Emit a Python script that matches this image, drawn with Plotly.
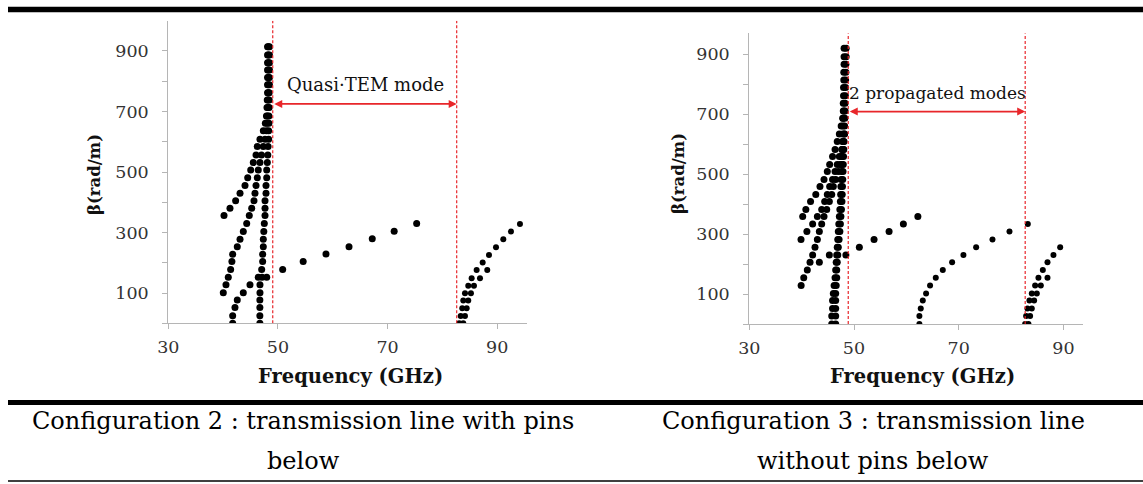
import plotly.graph_objects as go

# ---------------- Configuration 2 (left panel) ----------------
L_col_beta = [0, 25, 52, 77, 101, 127, 152, 178, 204, 228, 253, 278, 303, 330, 356, 380, 405, 430, 455,
              481, 507, 531, 556, 584, 608, 636, 661, 685, 713, 738, 762, 788, 812, 837, 861, 887, 914]
L_col_freq = [46.7, 46.7, 46.7, 46.7, 46.72, 46.72, 47.1, 47.03, 47.21, 47.21, 47.33, 47.33, 47.42, 47.51, 47.64,
              47.64, 47.64, 47.82, 47.82, 47.95, 47.95, 48.06, 48.15, 48.2, 48.3, 48.3, 48.35, 48.35, 48.4, 48.4,
              48.4, 48.45, 48.45, 48.45, 48.45, 48.45, 48.45]

L_d1_beta = [356, 380, 405, 430, 455, 481, 507, 531, 556, 584, 608, 636, 661, 685, 713, 738, 762, 788, 812,
             837, 861, 887, 914]
L_d1_freq = [40.16, 41.25, 42.28, 43.08, 43.99, 44.48, 45.03, 45.5, 46.0, 46.23, 46.72, 47.33, 47.7, 47.9,
             48.0, 48.05, 48.1, 48.1, 48.1, 48.1, 48.1, 48.1, 48.1]

L_d2_beta = [101, 127, 152, 178, 204, 228, 253, 278, 303, 330, 356, 380, 405, 430, 455, 481, 507, 531, 556,
             584, 608, 636, 661, 685, 713, 738, 762, 788, 812, 837, 861, 887, 914]
L_d2_freq = [40.03, 40.52, 40.94, 41.37, 41.6, 41.74, 42.58, 43.08, 43.68, 44.3, 44.77, 45.21, 45.63, 45.81,
             46.0, 46.23, 46.41, 46.72, 47.0, 47.33, 47.64, 47.9, 48.0, 48.1, 48.2, 48.2, 48.25, 48.25, 48.25,
             48.25, 48.25, 48.25, 48.25]

L_d3_beta = [0, 25, 52, 77, 101, 127, 152]
L_d3_freq = [41.74, 41.74, 42.16, 42.58, 43.68, 44.9, 46.41]

L_tem_beta = [152, 178, 204, 229, 253, 279, 304, 330]
L_tem_freq = [47.95, 50.86, 54.6, 58.76, 62.96, 67.2, 71.2, 75.3]

L_hi1_beta = [0, 24, 50, 75, 99, 124, 149, 176, 201, 226, 251, 278, 303, 328]
L_hi1_freq = [83.07, 83.33, 83.62, 83.8, 84.11, 84.71, 85.33, 86.24, 87.34, 88.49, 89.77, 91.1, 92.5, 94.14]

L_hi2_beta = [0, 24, 50, 75, 99, 124, 149, 176]
L_hi2_freq = [83.8, 84.11, 84.42, 84.71, 85.2, 85.75, 86.85, 88.18]

L_cut = [49.05, 82.6]
L_label = "Quasi·TEM mode"

# ---------------- Configuration 3 (right panel) ----------------
R_c1_beta = [0, 27, 52, 78, 102, 128, 154, 180, 206, 230, 256, 282, 308, 333, 358, 382, 408, 432, 458, 482,
             508, 532, 558, 582, 608, 633, 660, 686, 710, 736, 761, 788, 813, 839, 866, 891, 919]
R_c1_freq = [45.75, 45.75, 45.9, 45.9, 46.05, 46.2, 46.38, 46.5, 46.6, 46.7, 46.8, 46.9, 47.0, 47.1, 47.2, 47.3,
             47.4, 47.45, 47.5, 47.55, 47.6, 47.65, 47.7, 47.75, 47.8, 47.85, 47.9, 47.9, 47.95, 47.95, 48.0,
             48.0, 48.05, 48.05, 48.1, 48.1, 48.1]
R_c2_beta = [0, 27, 52, 78, 102, 128, 154, 180, 206, 230, 256, 282, 308, 333, 358, 382, 408, 432, 458, 482,
             508, 532, 558, 582, 608, 633, 660, 686, 710, 736, 761, 788, 813, 839, 866, 891, 919]
R_c2_freq = [46.5, 46.5, 46.5, 46.5, 46.5, 46.6, 46.7, 46.7, 46.8, 46.9, 47.0, 47.15, 47.3, 47.4, 47.5, 47.6,
             47.7, 47.75, 47.8, 47.85, 47.9, 47.95, 48.0, 48.05, 48.1, 48.15, 48.2, 48.25, 48.3, 48.3, 48.35,
             48.4, 48.4, 48.45, 48.45, 48.5, 48.5]

R_da_beta = [128, 154, 180, 206, 230, 256, 282, 308, 333, 358, 382, 408, 432, 458, 482, 508, 532, 558, 582]
R_da_freq = [39.9, 40.4, 41.08, 41.6, 42.1, 42.55, 43.0, 43.38, 43.83, 44.27, 44.79, 45.29, 45.75, 46.05,
             46.5, 47.0, 47.33, 47.66, 47.96]
R_db_beta = [282, 308, 333, 358, 382, 408, 432, 458, 482, 508, 532, 558, 582, 608, 633]
R_db_freq = [39.88, 41.0, 42.1, 43.0, 43.83, 44.4, 44.9, 45.35, 45.9, 46.38, 46.8, 47.2, 47.66, 47.96, 48.2]
R_dc_beta = [358, 382, 408, 432, 458, 482, 508, 532, 558, 582, 608, 633, 660, 686, 710]
R_dc_freq = [40.2, 40.8, 41.7, 42.7, 43.5, 44.27, 44.9, 45.35, 45.9, 46.38, 46.8, 47.2, 47.55, 47.85, 48.1]
R_short_beta = [206, 230]
R_short_freq = [43.38, 45.29]

R_tem_beta = [230, 256, 282, 308, 333, 358]
R_tem_freq = [48.45, 51.02, 53.83, 56.7, 59.43, 62.2]

R_mid_beta = [0, 27, 52, 78, 102, 128, 154, 180, 206, 230, 256, 282, 308, 333]
R_mid_freq = [62.49, 62.49, 62.75, 63.14, 63.77, 64.53, 65.62, 66.96, 68.74, 70.9, 73.33, 76.45, 79.7, 83.2]

R_hi1_beta = [0, 27, 52, 78, 102, 128, 154, 180, 206, 230, 256]
R_hi1_freq = [82.69, 82.88, 83.13, 83.51, 83.96, 84.6, 85.23, 86.07, 86.96, 88.1, 89.38]
R_hi2_beta = [0, 27, 52, 78, 102, 128, 154]
R_hi2_freq = [83.32, 83.64, 83.96, 84.41, 84.92, 85.69, 86.96]

R_cut = [48.9, 82.7]
R_label = "2 propagated modes"

x_ticks = [30, 50, 70, 90]
y_ticks = [0, 100, 200, 300, 400, 500, 600, 700, 800, 900]
y_ticktext = ["", "100", "", "300", "", "500", "", "700", "", "900"]
x_title = "Frequency (GHz)"
y_title = "β(rad/m)"
caption_left = ["Configuration 2 : transmission line with pins", "below"]
caption_right = ["Configuration 3 : transmission line", "without pins below"]

W, H = 1143, 484
FONT = "DejaVu Serif"

fig = go.Figure()


def add(xs, ys, xa, ya, size=7):
    fig.add_trace(go.Scatter(x=xs, y=ys, mode="markers", xaxis=xa, yaxis=ya, hoverinfo="skip",
                             marker=dict(color="black", size=size, line=dict(width=0))))


for fx, by in [(L_col_freq, L_col_beta), (L_d1_freq, L_d1_beta), (L_d2_freq, L_d2_beta),
               (L_d3_freq, L_d3_beta), (L_tem_freq, L_tem_beta)]:
    add(fx, by, "x", "y", 7)
for fx, by in [(L_hi1_freq, L_hi1_beta), (L_hi2_freq, L_hi2_beta)]:
    add(fx, by, "x", "y", 6)
for fx, by in [(R_c1_freq, R_c1_beta), (R_c2_freq, R_c2_beta), (R_da_freq, R_da_beta),
               (R_db_freq, R_db_beta), (R_dc_freq, R_dc_beta), (R_short_freq, R_short_beta),
               (R_tem_freq, R_tem_beta)]:
    add(fx, by, "x2", "y2", 7)
for fx, by in [(R_mid_freq, R_mid_beta), (R_hi1_freq, R_hi1_beta), (R_hi2_freq, R_hi2_beta)]:
    add(fx, by, "x2", "y2", 6)

axis_common = dict(showgrid=False, zeroline=False, showline=True, linecolor="#b5b5b5", linewidth=1.2,
                   ticks="outside", ticklen=5, tickcolor="#b5b5b5", tickwidth=1, automargin=False,
                   tickfont=dict(family=FONT, size=17.5, color="#333333"), fixedrange=True)

fig.update_layout(
    template="none",
    width=W, height=H, margin=dict(l=0, r=0, t=0, b=0, pad=0, autoexpand=False),
    paper_bgcolor="white", plot_bgcolor="white", showlegend=False,
    xaxis=dict(domain=[168.3 / W, 526.7 / W], range=[30, 95.37], anchor="y", tickvals=x_ticks,
               ticklabelstandoff=3, **axis_common),
    yaxis=dict(domain=[1 - 323.3 / H, 1 - 20.7 / H], range=[0, 1000], anchor="x", tickvals=y_ticks,
               ticktext=y_ticktext, ticklabelstandoff=10, **axis_common),
    xaxis2=dict(domain=[749.3 / W, 1083.3 / W], range=[30, 93.8], anchor="y2", tickvals=x_ticks,
                ticklabelstandoff=3, **axis_common),
    yaxis2=dict(domain=[1 - 324 / H, 1 - 33.3 / H], range=[0, 969], anchor="x2", tickvals=y_ticks,
                ticktext=y_ticktext, ticklabelstandoff=10, **axis_common),
)

shapes = []
for xv in L_cut:
    shapes.append(dict(type="line", xref="x", yref="y", x0=xv, x1=xv, y0=0, y1=1000,
                       line=dict(color="#e8262a", width=1.2, dash="3px,2px")))
for xv in R_cut:
    shapes.append(dict(type="line", xref="x2", yref="y2", x0=xv, x1=xv, y0=0, y1=969,
                       line=dict(color="#e8262a", width=1.2, dash="3px,2px")))
# table rules
shapes.append(dict(type="line", xref="paper", yref="paper", x0=8 / W, x1=1, y0=1 - 9.5 / H, y1=1 - 9.5 / H,
                   line=dict(color="black", width=5.5)))
shapes.append(dict(type="line", xref="paper", yref="paper", x0=8 / W, x1=1, y0=1 - 402.5 / H, y1=1 - 402.5 / H,
                   line=dict(color="black", width=5)))
shapes.append(dict(type="line", xref="paper", yref="paper", x0=8 / W, x1=1, y0=1 - 481 / H, y1=1 - 481 / H,
                   line=dict(color="black", width=1.5)))
fig.update_layout(shapes=shapes)

ann = []
# double-headed arrows
ann.append(dict(xref="x", yref="y", axref="x", ayref="y", x=L_cut[1], y=725, ax=L_cut[0], ay=725, text="",
                showarrow=True, arrowhead=2, arrowside="end+start", arrowsize=1, arrowwidth=1.6,
                arrowcolor="#e8262a", standoff=0, startstandoff=0))
ann.append(dict(xref="x2", yref="y2", axref="x2", ayref="y2", x=R_cut[1], y=708, ax=R_cut[0], ay=708, text="",
                showarrow=True, arrowhead=2, arrowside="end+start", arrowsize=1, arrowwidth=1.6,
                arrowcolor="#e8262a", standoff=0, startstandoff=0))
ann.append(dict(xref="x", yref="y", x=65.9, y=788, text=L_label, showarrow=False,
                font=dict(family=FONT, size=18, color="#111")))
ann.append(dict(xref="x2", yref="y2", x=66.0, y=769, text=R_label, showarrow=False,
                font=dict(family=FONT, size=17, color="#111")))
# axis titles
for xc in [350, 922]:
    ann.append(dict(xref="paper", yref="paper", x=xc / W, y=1 - 376 / H, text="<b>" + x_title + "</b>",
                    showarrow=False, xanchor="center", yanchor="middle",
                    font=dict(family=FONT, size=19.5, color="#111")))
for xc, yc in [(95, 175), (678, 174)]:
    ann.append(dict(xref="paper", yref="paper", x=xc / W, y=1 - yc / H, text="<b>" + y_title + "</b>",
                    showarrow=False, textangle=-90, xanchor="center", yanchor="middle",
                    font=dict(family=FONT, size=16.5, color="#111")))
# captions
for lines, xc in [(caption_left, 303), (caption_right, 873)]:
    for txt, yc in zip(lines, [421, 461]):
        ann.append(dict(xref="paper", yref="paper", x=xc / W, y=1 - yc / H, text=txt, showarrow=False,
                        xanchor="center", yanchor="middle", font=dict(family=FONT, size=24, color="black")))
fig.update_layout(annotations=ann)

fig.write_html("out.html", config={"displayModeBar": False},
               post_script="document.body.style.margin='0';")
